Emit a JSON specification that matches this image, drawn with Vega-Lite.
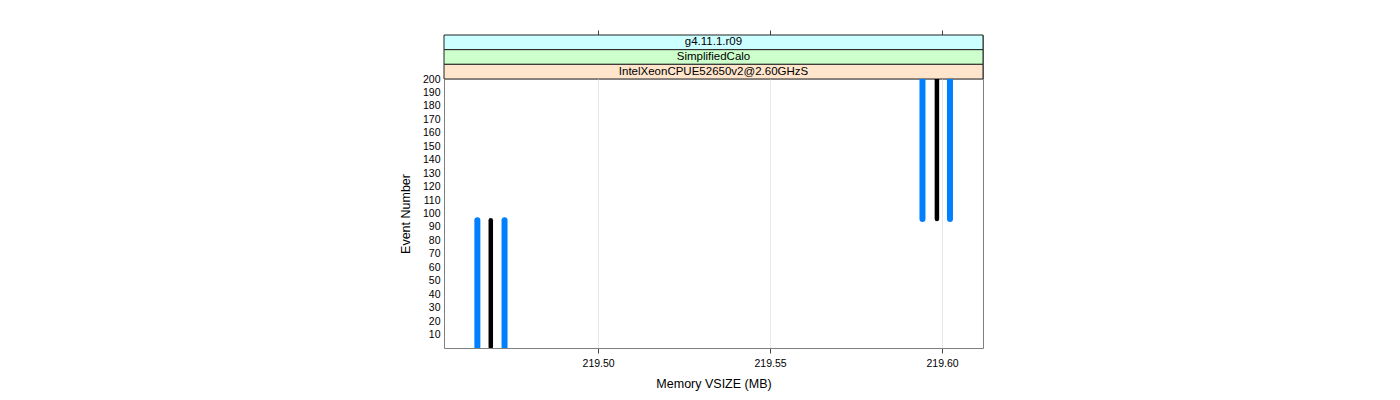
{
  "$schema": "https://vega.github.io/schema/vega-lite/v6.json",
  "padding": {"left": 398, "top": 29, "right": 0, "bottom": 0},
  "spacing": 0,
  "bounds": "flush",
  "config": {
    "font": "Liberation Sans",
    "view": {"stroke": "#808080", "strokeWidth": 1},
    "concat": {"spacing": 0},
    "axis": {"labelColor": "#000", "titleColor": "#000", "titleFontWeight": "normal", "tickColor": "#444"}
  },
  "vconcat": [
    {
      "width": 539,
      "height": 44,
      "data": {"values": [
        {"strip": "g4.11.1.r09"},
        {"strip": "SimplifiedCalo"},
        {"strip": "IntelXeonCPUE52650v2@2.60GHzS"}
      ]},
      "encoding": {
        "y": {"field": "strip", "type": "nominal", "sort": ["g4.11.1.r09", "SimplifiedCalo", "IntelXeonCPUE52650v2@2.60GHzS"], "scale": {"paddingInner": 0, "paddingOuter": 0}, "axis": null}
      },
      "layer": [
        {
          "mark": {"type": "rect", "stroke": "#222", "strokeWidth": 1},
          "encoding": {
            "x": {"datum": 219.4552, "type": "quantitative", "scale": {"domain": [219.4552, 219.6119], "nice": false, "zero": false},
              "axis": {"orient": "top", "values": [219.5, 219.55, 219.6], "labels": false, "ticks": true, "tickSize": 5, "domain": false, "grid": false, "title": null}},
            "x2": {"datum": 219.6119},
            "fill": {"field": "strip", "type": "nominal", "scale": {"domain": ["g4.11.1.r09", "SimplifiedCalo", "IntelXeonCPUE52650v2@2.60GHzS"], "range": ["#CCFFFF", "#CCFFCC", "#FFE5CC"]}, "legend": null}
          }
        },
        {
          "mark": {"type": "text", "fontSize": 11.5, "color": "#000", "baseline": "middle", "align": "center"},
          "encoding": {
            "x": {"datum": 219.53355, "type": "quantitative"},
            "text": {"field": "strip"}
          }
        }
      ]
    },
    {
      "width": 539,
      "height": 269,
      "data": {"values": [
        {"series": "low", "vsize": 219.4649, "start": 1, "end": 95},
        {"series": "mid", "vsize": 219.4688, "start": 1, "end": 95},
        {"series": "high", "vsize": 219.4728, "start": 1, "end": 95},
        {"series": "low", "vsize": 219.5943, "start": 96, "end": 200},
        {"series": "mid", "vsize": 219.5985, "start": 96, "end": 200},
        {"series": "high", "vsize": 219.6023, "start": 96, "end": 200}
      ]},
      "encoding": {
        "x": {"field": "vsize", "type": "quantitative", "scale": {"domain": [219.4552, 219.6119], "nice": false, "zero": false},
          "axis": {"orient": "bottom", "values": [219.5, 219.55, 219.6], "format": ".2f", "grid": true, "gridColor": "#e8e8e8", "domain": false, "tickSize": 5, "labelFontSize": 10.5, "labelPadding": 5, "title": "Memory VSIZE (MB)", "titleFontSize": 12.5, "titlePadding": 9}},
        "y": {"field": "start", "type": "quantitative", "scale": {"domain": [0, 200], "nice": false, "zero": false},
          "axis": {"values": [10, 20, 30, 40, 50, 60, 70, 80, 90, 100, 110, 120, 130, 140, 150, 160, 170, 180, 190, 200], "ticks": false, "domain": false, "grid": false, "labelPadding": 4, "labelFontSize": 10.5, "title": "Event Number", "titleFontSize": 12.5, "titlePadding": 10}},
        "y2": {"field": "end"}
      },
      "layer": [
        {
          "transform": [{"filter": "datum.series !== 'mid'"}],
          "mark": {"type": "rule", "color": "#0080FF", "strokeWidth": 6, "strokeCap": "round", "clip": true}
        },
        {
          "transform": [{"filter": "datum.series === 'mid'"}],
          "mark": {"type": "rule", "color": "#000000", "strokeWidth": 4.5, "strokeCap": "round", "clip": true}
        }
      ]
    }
  ]
}
